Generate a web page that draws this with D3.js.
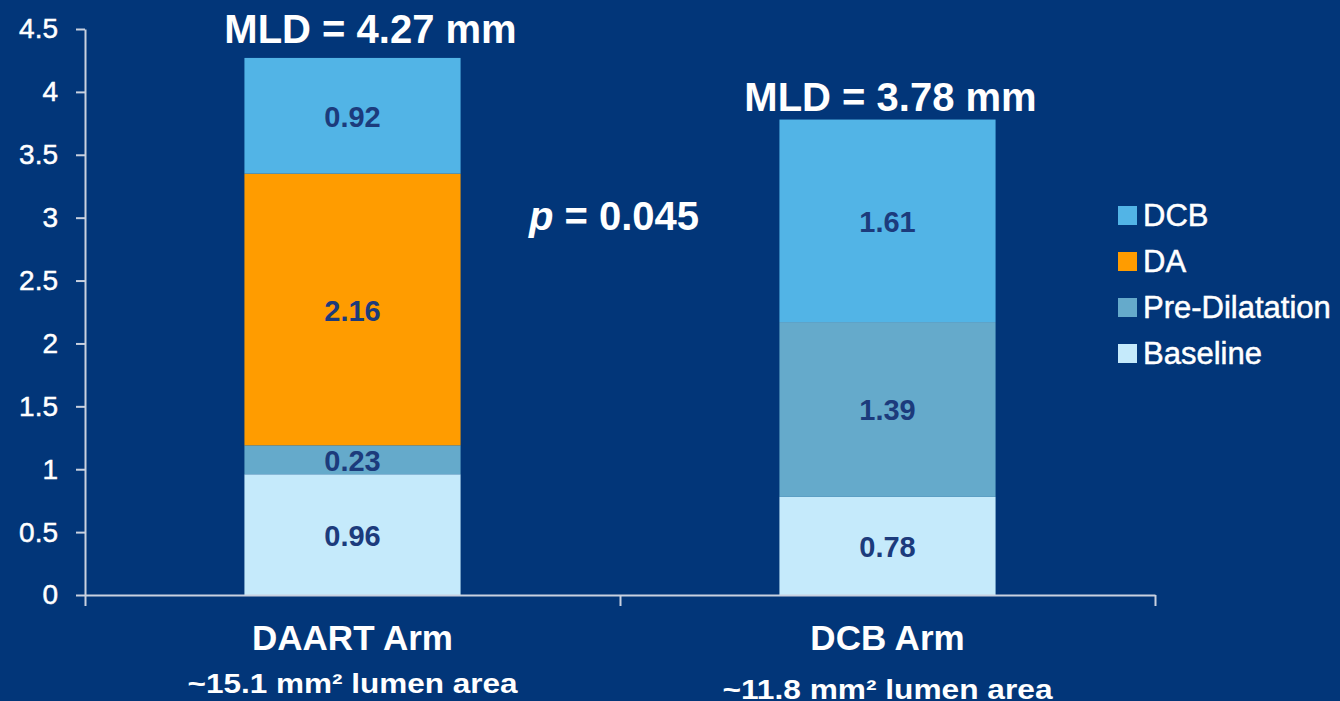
<!DOCTYPE html>
<html>
<head>
<meta charset="utf-8">
<script src="https://cdn.jsdelivr.net/npm/d3@7/dist/d3.min.js"></script>
<style>
  html, body { margin: 0; padding: 0; background: #023679; }
  svg { display: block; font-family: "Liberation Sans", Arial, sans-serif; }
</style>
</head>
<body>
<svg id="chart" width="1340" height="701"></svg>
<script>
// Arms on the x axis
const arms = ["DAART Arm", "DCB Arm"];
const armAreas = ["~15.1 mm\u00B2 lumen area", "~11.8 mm\u00B2 lumen area"];

// Stacked components, bottom to top (mm)
const series = ["Baseline", "Pre-Dilatation", "DA", "DCB"];
const baseline      = [0.96, 0.78];
const preDilatation = [0.23, 1.39];
const da            = [2.16, 0];
const dcb           = [0.92, 1.61];

// Totals shown above each bar
const mld = [4.27, 3.78];
const pValue = "0.045";

// Y axis ticks
const yTicks = [0, 0.5, 1, 1.5, 2, 2.5, 3, 3.5, 4, 4.5];
const yTickLabels = ["0", "0.5", "1", "1.5", "2", "2.5", "3", "3.5", "4", "4.5"];

// Legend order (top to bottom)
const legendItems = ["DCB", "DA", "Pre-Dilatation", "Baseline"];

const colors = {
  "Baseline": "#c5eafb",
  "Pre-Dilatation": "#65aacb",
  "DA": "#ff9c00",
  "DCB": "#52b4e6"
};

const valuesBySeries = {
  "Baseline": baseline,
  "Pre-Dilatation": preDilatation,
  "DA": da,
  "DCB": dcb
};

const rows = arms.map((arm, i) => {
  const r = { arm };
  series.forEach(s => r[s] = valuesBySeries[s][i]);
  return r;
});

const svg = d3.select("#chart");
const axisColor = "#c9d1e0";
const labelColor = "#1c3b7c";

const plotLeft = 85, plotRight = 1155, plotTop = 29, plotBottom = 595;

const x = d3.scaleBand().domain(arms).range([plotLeft, plotRight])
  .paddingInner(0.596).paddingOuter(0.298);
const y = d3.scaleLinear().domain([0, 4.5]).range([plotBottom, plotTop]);

const stacked = d3.stack().keys(series)(rows);

// Bars
const layers = svg.append("g").selectAll("g")
  .data(stacked).join("g")
  .attr("fill", d => colors[d.key]);

layers.selectAll("rect")
  .data(d => d)
  .join("rect")
  .attr("x", d => x(d.data.arm))
  .attr("width", x.bandwidth())
  .attr("y", d => y(d[1]))
  .attr("height", d => y(d[0]) - y(d[1]));

// Segment value labels
layers.selectAll("text")
  .data(d => d.filter(v => v[1] - v[0] > 0))
  .join("text")
  .attr("x", d => x(d.data.arm) + x.bandwidth() / 2)
  .attr("y", d => y((d[0] + d[1]) / 2))
  .attr("dy", "0.38em")
  .attr("text-anchor", "middle")
  .attr("fill", labelColor)
  .attr("font-size", 29)
  .attr("font-weight", "bold")
  .text(d => d3.format(".2f")(d[1] - d[0]));

// Y axis
const yAxis = svg.append("g")
  .attr("transform", `translate(${plotLeft},0)`)
  .call(d3.axisLeft(y).tickValues(yTicks)
    .tickFormat((d, i) => yTickLabels[i])
    .tickSize(9).tickSizeOuter(0).tickPadding(18));
yAxis.select(".domain").attr("stroke", axisColor).attr("stroke-width", 2);
yAxis.selectAll(".tick line").attr("stroke", axisColor).attr("stroke-width", 2);
yAxis.selectAll(".tick text").attr("fill", "#ffffff").attr("font-size", 28)
  .attr("stroke", "#ffffff").attr("stroke-width", 0.5)
  .attr("font-family", "Liberation Sans, Arial, sans-serif");

// X axis with ticks at the category boundaries
const xEdges = d3.scaleLinear().domain([0, arms.length]).range([plotLeft, plotRight]);
const xAxis = svg.append("g")
  .attr("transform", `translate(0,${plotBottom})`)
  .call(d3.axisBottom(xEdges).tickValues(d3.range(arms.length + 1))
    .tickFormat("").tickSize(11).tickSizeOuter(0));
xAxis.select(".domain").attr("stroke", axisColor).attr("stroke-width", 2);
xAxis.selectAll(".tick line").attr("stroke", axisColor).attr("stroke-width", 2);

// Category labels
svg.append("g").selectAll("text")
  .data(arms).join("text")
  .attr("x", d => x(d) + x.bandwidth() / 2)
  .attr("y", 650)
  .attr("text-anchor", "middle")
  .attr("fill", "#ffffff")
  .attr("font-size", 35)
  .attr("font-weight", "bold")
  .text(d => d);

svg.append("g").selectAll("text")
  .data(armAreas).join("text")
  .attr("x", (d, i) => x(arms[i]) + x.bandwidth() / 2)
  .attr("y", (d, i) => i === 0 ? 693 : 699)
  .attr("text-anchor", "middle")
  .attr("fill", "#ffffff")
  .attr("font-size", 28)
  .attr("font-weight", "bold")
  .attr("textLength", 330)
  .attr("lengthAdjust", "spacingAndGlyphs")
  .text(d => d);

// MLD totals above the bars
const mldShift = [18, 3];
const mldGap = [15, 9];
svg.append("g").selectAll("text")
  .data(mld).join("text")
  .attr("x", (d, i) => x(arms[i]) + x.bandwidth() / 2 + mldShift[i])
  .attr("y", (d, i) => y(d) - mldGap[i])
  .attr("text-anchor", "middle")
  .attr("fill", "#ffffff")
  .attr("font-size", 40)
  .attr("font-weight", "bold")
  .text(d => `MLD = ${d3.format(".2f")(d)} mm`);

// p-value
const pText = svg.append("text")
  .attr("x", 614)
  .attr("y", 230)
  .attr("text-anchor", "middle")
  .attr("fill", "#ffffff")
  .attr("font-size", 40)
  .attr("font-weight", "bold");
pText.append("tspan").attr("font-style", "italic").text("p");
pText.append("tspan").text(` = ${pValue}`);

// Legend
const legend = svg.append("g").selectAll("g")
  .data(legendItems).join("g")
  .attr("transform", (d, i) => `translate(1118,${215 + i * 46})`);
legend.append("rect")
  .attr("x", 0).attr("y", -9)
  .attr("width", 19).attr("height", 19)
  .attr("fill", d => colors[d]);
legend.append("text")
  .attr("x", 25).attr("y", 0).attr("dy", "0.36em")
  .attr("fill", "#ffffff")
  .attr("stroke", "#ffffff").attr("stroke-width", 0.5)
  .attr("font-size", 31)
  .text(d => d);
</script>
</body>
</html>
